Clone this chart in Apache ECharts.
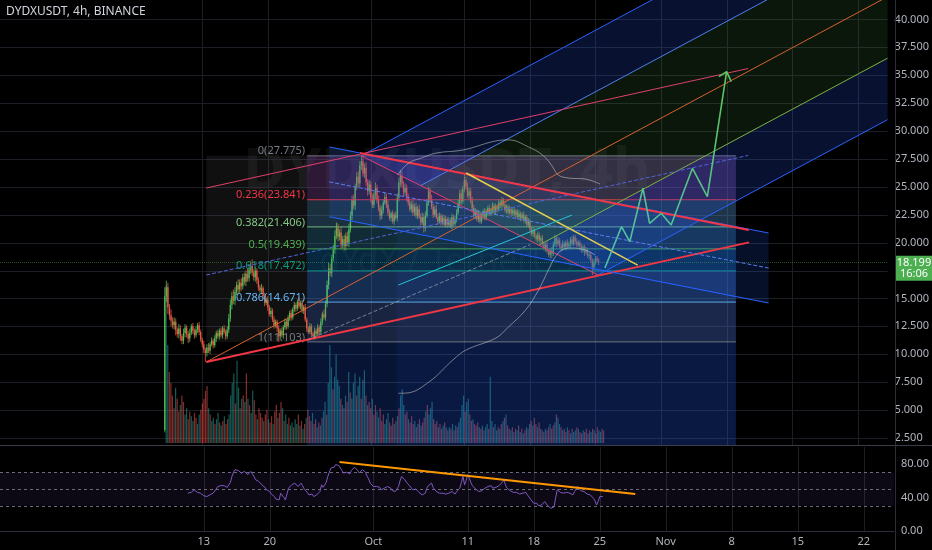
<!DOCTYPE html>
<html><head><meta charset="utf-8">
<script src="https://cdn.jsdelivr.net/npm/echarts@6/dist/echarts.min.js"></script>
<style>html,body{margin:0;padding:0;background:#000;}#c{width:932px;height:550px;}</style>
</head><body><div id="c"></div>
<script>
// ---------- DATA (day 0 = 2021-09-01 00:00, 4h candles) ----------
const startDay = 8;            // first candle: Sep 9
const firstOpen = 3.2;
const closes = [
15.2,16.0,14.2,13.5,13.0,12.6,12.9,12.2,11.8,12.3,
11.6,11.2,11.9,12.4,11.8,11.4,11.9,12.5,12.1,11.7,
12.2,12.6,12.0,11.3,10.9,10.4,10.1,10.6,10.3,10.9,
11.2,10.8,11.4,11.9,11.6,12.1,11.7,12.3,12.0,11.6,
12.2,13.2,14.4,15.2,14.8,15.6,16.2,15.8,16.4,16.1,
16.9,16.5,17.2,16.8,17.6,17.9,17.3,16.9,17.5,16.6,
16.0,15.7,15.9,15.2,14.6,14.9,14.2,13.6,13.9,13.1,
12.6,12.9,12.3,11.6,12.1,11.7,12.4,12.9,12.5,13.2,
13.7,13.3,14.0,14.4,14.1,14.7,14.3,14.6,13.9,14.2,
13.1,12.3,12.0,12.5,11.8,11.6,12.1,11.8,12.4,12.0,
12.9,13.6,13.3,14.5,16.2,17.7,17.3,18.6,19.4,20.6,
21.3,20.5,20.9,19.8,20.3,19.7,20.6,20.0,21.2,22.4,
23.8,23.3,25.0,25.9,25.3,26.9,27.3,26.2,26.7,25.4,
24.6,25.2,24.0,23.4,24.3,24.9,23.8,23.1,22.4,22.9,
23.6,24.1,23.4,22.7,22.2,22.6,21.9,22.5,22.2,24.0,
25.4,26.0,25.2,24.5,24.9,24.0,23.6,23.0,23.4,22.7,
23.2,22.4,23.0,22.3,21.8,22.3,21.3,22.4,23.6,24.6,
23.9,23.2,22.5,23.0,22.3,21.9,22.4,21.8,22.2,21.6,
22.1,21.6,22.0,21.5,22.3,21.7,22.1,22.7,23.5,24.4,
23.7,24.8,25.6,25.0,24.2,24.6,23.7,23.1,22.4,22.8,
22.1,22.6,21.9,22.4,22.8,22.2,22.7,23.1,22.6,22.9,
23.3,22.7,23.2,23.0,23.6,23.3,23.8,23.4,22.9,23.2,
22.7,23.0,22.6,22.9,22.5,22.8,22.3,22.6,22.2,22.5,
22.0,22.3,21.6,21.9,21.2,20.8,21.1,20.6,20.3,20.7,
20.2,20.4,19.9,19.5,19.8,19.2,18.9,19.3,19.0,19.8,
20.4,19.9,20.2,19.7,19.5,19.9,19.6,20.0,19.7,19.9,
20.3,19.9,20.5,20.1,19.8,20.0,19.6,19.3,19.6,19.1,
19.3,18.8,18.9,18.4,17.8,18.2,18.6,18.4,18.199];
const upWick = [
0.8,0.6,0.4,0.3,0.5,0.3,0.4,0.3,0.2,0.4,
0.3,0.2,0.4,0.3,0.2,0.3,0.4,0.2,0.3,0.2,
0.3,0.2,0.3,0.2,0.2,0.3,0.2,0.3,0.4,0.2,
0.3,0.2,0.3,0.2,0.3,0.2,0.3,0.2,0.3,0.2,
0.3,0.4,0.5,0.4,0.6,0.4,0.3,0.5,0.3,0.4,
0.3,0.4,0.3,0.5,0.4,0.4,0.6,0.3,0.3,0.2,
0.3,0.2,0.4,0.2,0.3,0.2,0.3,0.2,0.3,0.2,
0.3,0.2,0.2,0.3,0.2,0.3,0.2,0.3,0.2,0.3,
0.2,0.3,0.2,0.3,0.2,0.2,0.4,0.2,0.3,0.2,
0.3,0.2,0.2,0.3,0.2,0.2,0.3,0.2,0.3,0.2,
0.3,0.2,0.4,0.3,0.4,0.5,0.4,0.3,0.4,0.5,
0.5,0.4,0.3,0.5,0.3,0.4,0.3,0.4,0.5,0.4,
0.4,0.5,0.3,0.4,0.5,0.4,0.5,0.6,0.4,0.5,
0.3,0.4,0.3,0.4,0.3,0.5,0.3,0.4,0.3,0.4,
0.3,0.4,0.3,0.4,0.3,0.2,0.3,0.2,0.3,0.4,
0.4,0.5,0.4,0.3,0.4,0.3,0.4,0.3,0.3,0.4,
0.3,0.4,0.3,0.4,0.3,0.4,0.3,0.4,0.3,0.4,
0.3,0.4,0.3,0.3,0.4,0.3,0.3,0.2,0.3,0.3,
0.3,0.2,0.3,0.2,0.3,0.2,0.3,0.3,0.4,0.3,
0.4,0.3,0.5,0.3,0.4,0.3,0.3,0.4,0.3,0.3,
0.2,0.3,0.2,0.3,0.2,0.3,0.3,0.2,0.3,0.2,
0.3,0.2,0.3,0.2,0.3,0.2,0.3,0.2,0.3,0.2,
0.2,0.3,0.2,0.2,0.3,0.2,0.2,0.3,0.2,0.2,
0.3,0.2,0.2,0.3,0.2,0.2,0.3,0.2,0.2,0.3,
0.2,0.2,0.3,0.2,0.2,0.3,0.2,0.2,0.3,0.3,
0.3,0.2,0.3,0.2,0.2,0.3,0.2,0.2,0.3,0.2,
0.2,0.3,0.2,0.2,0.3,0.2,0.2,0.3,0.2,0.2,
0.3,0.2,0.2,0.3,0.2,0.3,0.2,0.2,0.2];
const dnWick = [
0.2,0.5,0.6,0.4,0.5,0.3,0.4,0.5,0.3,0.4,
0.4,0.3,0.3,0.4,0.3,0.4,0.3,0.2,0.3,0.3,
0.2,0.3,0.3,0.2,0.3,0.3,0.8,0.3,0.2,0.3,
0.2,0.3,0.2,0.3,0.2,0.3,0.2,0.3,0.2,0.3,
0.2,0.3,0.3,0.4,0.3,0.4,0.3,0.4,0.3,0.4,
0.3,0.3,0.4,0.3,0.3,0.4,0.3,0.3,0.4,0.3,
0.3,0.2,0.3,0.2,0.3,0.2,0.3,0.2,0.3,0.2,
0.3,0.2,0.3,0.5,0.3,0.2,0.3,0.2,0.3,0.2,
0.2,0.3,0.2,0.2,0.3,0.2,0.2,0.3,0.2,0.3,
0.2,0.3,0.2,0.2,0.3,0.2,0.3,0.2,0.2,0.3,
0.2,0.3,0.2,0.3,0.3,0.4,0.3,0.4,0.3,0.4,
0.3,0.4,0.3,0.4,0.3,0.4,0.4,0.3,0.4,0.3,
0.4,0.3,0.4,0.3,0.4,0.3,0.4,0.3,0.4,0.3,
0.4,0.3,0.4,0.3,0.3,0.4,0.3,0.3,0.4,0.3,
0.3,0.2,0.3,0.3,0.2,0.3,0.2,0.3,0.2,0.3,
0.3,0.4,0.3,0.4,0.3,0.3,0.3,0.2,0.3,0.3,
0.3,0.2,0.3,0.2,0.3,0.2,0.4,0.3,0.2,0.3,
0.3,0.2,0.3,0.2,0.2,0.3,0.2,0.3,0.2,0.2,
0.2,0.3,0.2,0.2,0.3,0.2,0.2,0.3,0.2,0.3,
0.3,0.2,0.3,0.3,0.2,0.3,0.2,0.3,0.2,0.3,
0.2,0.3,0.2,0.2,0.3,0.2,0.2,0.3,0.2,0.2,
0.3,0.2,0.2,0.3,0.2,0.2,0.3,0.2,0.2,0.3,
0.2,0.2,0.3,0.2,0.2,0.3,0.2,0.2,0.3,0.2,
0.2,0.3,0.2,0.2,0.3,0.2,0.3,0.2,0.2,0.3,
0.2,0.3,0.2,0.2,0.3,0.2,0.2,0.3,0.4,0.2,
0.2,0.3,0.2,0.2,0.3,0.2,0.2,0.3,0.2,0.2,
0.3,0.2,0.2,0.3,0.2,0.2,0.3,0.2,0.2,0.3,
0.2,0.2,0.3,0.2,0.7,0.3,0.2,0.2,0.2];
const volumes = [
100,62,45,38,30,22,35,28,20,24,
30,26,18,22,15,20,17,14,19,16,
12,18,21,25,28,33,36,22,18,14,
16,12,15,19,13,11,14,17,12,15,
18,30,38,44,25,52,35,22,28,30,
26,44,28,24,19,33,27,18,15,22,
19,16,14,18,21,15,13,17,12,20,
24,16,19,26,22,14,18,12,16,11,
13,10,15,12,18,11,14,9,12,16,
21,17,14,19,12,15,10,13,11,16,
20,26,18,38,62,48,34,42,56,40,
36,28,24,22,30,26,45,32,28,38,
44,30,36,42,28,40,46,30,24,26,
22,28,18,24,20,16,22,14,18,12,
15,19,13,11,16,12,14,17,22,30,
34,24,18,20,15,13,17,12,14,10,
12,15,11,13,16,20,24,18,22,26,
15,12,14,10,12,9,11,13,10,8,
10,9,12,8,11,10,13,16,24,30,
20,26,28,18,14,15,12,11,13,10,
9,11,8,10,12,9,42,14,10,12,
8,10,9,12,14,16,18,11,9,8,
10,7,9,8,11,7,9,6,8,10,
9,12,14,11,16,12,10,13,9,8,
7,9,8,10,12,9,11,13,18,16,
12,10,8,9,7,10,8,6,9,7,
8,10,9,7,6,8,7,9,6,8,
7,9,8,6,10,8,7,9,8];
const rsiStart = 14;
const rsi = [
45,47,46,48,49,48, 46,44,45,43,42,41, 41,42,43,44,45,44, 50,53,52,54,55,54,
55,52,51,58,65,70, 73,75,72,71,69,70, 71,70,67,69,71,68, 65,61,62,59,57,55,
56,52,49,50,47,44, 45,41,38,40,37,45, 43,40,37,44,51,53, 55,54,57,55,53,55,
57,55,50,52,46,43, 42,44,41,40,43,41, 47,55,52,51,58,65, 70,75,73,76,79,81,
78,75,72,69,67,70, 71,68,72,74,76,77, 72,69,71,73,74,70, 65,62,57,55,53,51,
53,55,52,49,48,51, 51,53,55,51,48,49, 47,50,53,60,65,63, 61,58,57,54,52,49,
47,50,48,46,45,43, 41,45,51,54,55,57, 52,50,47,48,45,43, 45,46,44,46,45,45,
47,46,44,47,48,51, 58,65,55,60,67,63, 58,54,52,50,48,47, 49,48,50,51,49,53,
52,54,51,50,52,53, 54,56,58,61,55,51, 50,48,47,46,45,46, 45,44,46,45,44,46,
43,41,38,36,33,31, 33,30,29,31,33,35, 33,30,28,27,25,29, 40,49,48,46,47,45,
44,46,47,45,44,43, 47,50,53,51,48,49, 47,45,44,45,43,43,
39,36,31,35,41,43,41];
const lastTimer = '16:06';

// axes / ticks
const xTickDays = [12,19,30,40,47,54,61,68,75,82];
const xTickLabels = ['13','20','Oct','11','18','25','Nov','8','15','22'];
const priceTicks = [2.5,5,7.5,10,12.5,15,17.5,20,22.5,25,27.5,30,32.5,35,37.5,40];
const rsiTicks = [0,40,80];
const rsiLevels = [70,50,30];

// fibonacci retracement
const fibLevelNames = ['0','0.236','0.382','0.5','0.618','0.786','1'];
const fibPrices = [27.775,23.841,21.406,19.439,17.472,14.671,11.103];
const fibColors = ['#787b86','#f23645','#81c784','#4caf50','#089981','#64b5f6','#787b86'];
const fibStart = 23.2, fibEnd = 69.0;
const grayBoxStart = 12.43;
const blueBox1Start = 23.2, blueBox2Start = 32.77;

// pitchfork anchors [day, price]
const pfPivot = [12.43, 9.30];
const pfA = [29.0, 27.78];
const pfB = [54.27, 17.10];
const pfLevels = [0, 0.25, 0.5, 0.75, 1];

// trend lines [day, price]
const redChanLower = [[12.43, 9.30], [70.4, 20.02]];
const redChanUpper = [[12.43, 24.89], [70.3, 35.60]];
const redChanMid   = [[12.43, 17.10], [70.3, 27.81]];
const descUpper = [[25.57, 28.57], [72.49, 20.86]];
const descLower = [[25.57, 22.32], [72.49, 14.59]];
const descMid   = [[25.57, 25.44], [72.49, 17.72]];
const downTrend = [[28.85, 28.03], [70.37, 21.13]];
const yellowLine = [[40.18, 26.24], [58.51, 17.99]];
const tealLine = [[32.95, 16.20], [51.48, 22.47]];
const whiteDashed = [[23.24, 11.27], [47.0, 19.82]];
const upperCurve = [[32.87,26.06],[34.04,27.13],[35.42,27.58],[37.01,28.03],[39.87,28.30],[43.36,29.11],[44.74,29.20],[46.86,28.57],[48.34,27.85],[49.29,26.96],[50.03,26.06],[51.09,25.79],[52.89,25.70],[54.48,25.25]];
const lowerCurve = [[32.95,6.50],[33.83,6.52],[36.26,7.54],[38.77,9.48],[40.18,10.38],[43.36,11.45],[44.74,12.47],[46.54,13.96],[47.92,15.75],[48.97,17.55],[49.72,18.74],[50.43,19.34],[51.48,19.52],[52.89,19.34],[53.95,18.89]];
const projection = [[55.01,17.73],[56.78,21.43],[57.66,20.08],[59.07,24.87],[59.78,21.73],[61.02,22.63],[62.08,21.58],[64.36,26.66],[65.95,24.11],[68.01,35.32]];
const arrowHead = [[67.19,34.87],[68.01,35.32],[68.5,34.42]];
const rsiTrend = [[26.41, 82.1], [57.77, 44.0]];

// ---------- CHART ----------
const X_MIN = -9.6, X_MAX = 85.2;
const P_MIN = 1.864, P_MAX = 41.74;
const UP = '#4fbf55', DN = '#ec5a44';
const GRIDC = '#1b1e25';
const FONT = 'Noto Sans';

const opens = closes.map((c, i) => i === 0 ? firstOpen : closes[i - 1]);
const candleData = closes.map((c, i) => {
  const o = opens[i];
  return [startDay + i / 6, o, c, Math.min(o, c) - dnWick[i], Math.max(o, c) + upWick[i]];
});
const volData = volumes.map((v, i) => [startDay + i / 6, v, closes[i] >= opens[i] ? 1 : 0]);
const rsiData = rsi.map((v, k) => [startDay + (rsiStart + k) / 6, v]);

function hexA(hex, a) {
  const n = parseInt(hex.slice(1), 16);
  return 'rgba(' + (n >> 16 & 255) + ',' + (n >> 8 & 255) + ',' + (n & 255) + ',' + a + ')';
}
function lineS(pts, color, width, type, z, axis) {
  const ax = axis || 0;
  return { type: 'line', xAxisIndex: ax, yAxisIndex: ax, data: pts, symbol: 'none', silent: true,
    animation: false, lineStyle: { color: color, width: width, type: type || 'solid' }, z: z || 6 };
}
function vGrid(ax) {
  return { type: 'custom', xAxisIndex: ax, yAxisIndex: ax, silent: true, z: 0, animation: false,
    data: xTickDays.map(d => [d, 0]),
    renderItem: (params, api) => {
      const cs = params.coordSys; const x = Math.round(api.coord([api.value(0), 0])[0]) + 0.5;
      return { type: 'line', shape: { x1: x, y1: cs.y, x2: x, y2: cs.y + cs.height }, style: { stroke: GRIDC, lineWidth: 1 } };
    } };
}
function pfStart(t) { return [pfA[0] + t * (pfB[0] - pfA[0]), pfA[1] + t * (pfB[1] - pfA[1])]; }
const pfMid = pfStart(0.5);
const pfSlope = (pfMid[1] - pfPivot[1]) / (pfMid[0] - pfPivot[0]);
function pfEnd(t) { const s = pfStart(t); return [X_MAX, s[1] + pfSlope * (X_MAX - s[0])]; }

const series = [];
// horizontal price grid
series.push({ type: 'custom', xAxisIndex: 0, yAxisIndex: 0, silent: true, z: 0, animation: false,
  data: priceTicks.map(v => [0, v]),
  renderItem: (params, api) => {
    const cs = params.coordSys; const y = Math.round(api.coord([0, api.value(1)])[1]) + 0.5;
    return { type: 'line', shape: { x1: cs.x, y1: y, x2: cs.x + cs.width, y2: y }, style: { stroke: GRIDC, lineWidth: 1 } };
  } });
series.push(vGrid(0));
series.push(vGrid(2));
// volume
series.push({ type: 'custom', xAxisIndex: 1, yAxisIndex: 1, silent: true, z: 1, animation: false,
  data: volData,
  renderItem: (params, api) => {
    const p0 = api.coord([api.value(0), 0]), p1 = api.coord([api.value(0), api.value(1)]);
    return { type: 'rect', shape: { x: p0[0] - 0.6, y: p1[1], width: 1.2, height: p0[1] - p1[1] },
      style: { fill: api.value(2) ? 'rgba(38,166,154,0.55)' : 'rgba(239,83,80,0.55)' } };
  } });
// background boxes
series.push({ type: 'custom', xAxisIndex: 0, yAxisIndex: 0, silent: true, z: 2, animation: false, clip: true,
  data: [[grayBoxStart, fibPrices[6], fibStart, fibPrices[0], 0], [blueBox1Start, P_MIN, fibEnd, fibPrices[0], 1], [blueBox2Start, P_MIN, fibEnd, fibPrices[0], 2]],
  renderItem: (params, api) => {
    const a = api.coord([api.value(0), api.value(1)]), b = api.coord([api.value(2), api.value(3)]);
    const fills = ['rgba(120,123,134,0.13)', 'rgba(41,98,255,0.20)', 'rgba(41,98,255,0.07)'];
    return { type: 'rect', shape: { x: a[0], y: b[1], width: b[0] - a[0], height: a[1] - b[1] }, style: { fill: fills[api.value(4)] } };
  } });
// candles
series.push({ type: 'custom', xAxisIndex: 0, yAxisIndex: 0, silent: true, z: 3, animation: false,
  data: candleData,
  renderItem: (params, api) => {
    const x = api.value(0), o = api.value(1), c = api.value(2), l = api.value(3), h = api.value(4);
    const pO = api.coord([x, o]), pC = api.coord([x, c]), pL = api.coord([x, l]), pH = api.coord([x, h]);
    const col = c >= o ? UP : DN; const w = 1.3;
    return { type: 'group', children: [
      { type: 'line', shape: { x1: pH[0], y1: pH[1], x2: pL[0], y2: pL[1] }, style: { stroke: col, lineWidth: 0.8 } },
      { type: 'rect', shape: { x: pO[0] - w / 2, y: Math.min(pO[1], pC[1]), width: w, height: Math.max(1, Math.abs(pO[1] - pC[1])) }, style: { fill: col } }
    ] };
  } });
// fib retracement
series.push({ type: 'custom', xAxisIndex: 0, yAxisIndex: 0, silent: true, z: 4, animation: false,
  data: fibPrices.map((p, k) => [fibStart, p, k]),
  renderItem: (params, api) => {
    const k = api.value(2), p = fibPrices[k];
    const a = api.coord([fibStart, p]), b = api.coord([fibEnd, p]);
    const ch = [];
    if (k < fibPrices.length - 1) {
      const c2 = api.coord([fibEnd, fibPrices[k + 1]]);
      ch.push({ type: 'rect', shape: { x: a[0], y: a[1], width: b[0] - a[0], height: c2[1] - a[1] }, style: { fill: hexA(fibColors[k + 1], 0.16) } });
    }
    ch.push({ type: 'line', shape: { x1: a[0], y1: a[1], x2: b[0], y2: b[1] }, style: { stroke: fibColors[k], lineWidth: 1, opacity: 0.9 } });
    ch.push({ type: 'text', x: a[0] - 2, y: a[1] + 1, style: { text: fibLevelNames[k] + '(' + p.toFixed(3) + ')', fill: fibColors[k], font: '11px ' + FONT, align: 'right', verticalAlign: 'bottom' } });
    return { type: 'group', children: ch };
  } });
// descending channel fill
series.push({ type: 'custom', xAxisIndex: 0, yAxisIndex: 0, silent: true, z: 4, animation: false, clip: true,
  data: [[0, 0]],
  renderItem: (params, api) => ({ type: 'polygon',
    shape: { points: [descUpper[0], descUpper[1], descLower[1], descLower[0]].map(p => api.coord(p)) },
    style: { fill: 'rgba(41,98,255,0.16)' } }) });
// pitchfork fills
series.push({ type: 'custom', xAxisIndex: 0, yAxisIndex: 0, silent: true, z: 4, animation: false, clip: true,
  data: [[0, 0, 0], [0, 0, 1], [0, 0, 2], [0, 0, 3]],
  renderItem: (params, api) => {
    const k = api.value(2), t1 = pfLevels[k], t2 = pfLevels[k + 1];
    const pts = [pfStart(t1), pfEnd(t1), pfEnd(t2), pfStart(t2)].map(p => api.coord(p));
    const fill = (k === 0 || k === 3) ? 'rgba(41,98,255,0.19)' : 'rgba(76,175,80,0.13)';
    return { type: 'polygon', shape: { points: pts }, style: { fill: fill } };
  } });
// pitchfork lines
series.push(lineS([pfStart(0), pfEnd(0)], '#2962ff', 1));
series.push(lineS([pfStart(0.25), pfEnd(0.25)], '#4f7ff0', 1));
series.push(lineS([pfPivot, pfEnd(0.5)], '#d9622f', 1));
series.push(lineS([pfStart(0.75), pfEnd(0.75)], '#7cb342', 1));
series.push(lineS([pfStart(1), pfEnd(1)], '#2962ff', 1));
series.push(lineS([pfA, pfB], '#e0406a', 1));
// trend lines
series.push(lineS(redChanUpper, '#e0406a', 1));
series.push(lineS(redChanMid, '#5363d8', 1, 'dashed'));
series.push(lineS(redChanLower, '#f23645', 2));
series.push(lineS(descUpper, '#2962ff', 1));
series.push(lineS(descLower, '#2962ff', 1.2));
series.push(lineS(descMid, '#5b7cf0', 1, 'dashed'));
series.push(lineS(downTrend, '#f23645', 2));
series.push(lineS(yellowLine, '#e3cf4d', 1.5));
series.push(lineS(tealLine, '#26c6da', 1));
series.push(lineS(whiteDashed, 'rgba(200,200,210,0.55)', 1, 'dashed'));
series.push(Object.assign(lineS(upperCurve, 'rgba(205,205,205,0.55)', 1), { smooth: 0.4 }));
series.push(Object.assign(lineS(lowerCurve, 'rgba(205,205,205,0.55)', 1), { smooth: 0.4 }));
// projection path
const projGrad = new echarts.graphic.LinearGradient(0, 1, 1, 0, [{ offset: 0, color: '#4dc0b0' }, { offset: 1, color: '#5cc45c' }]);
series.push(lineS(projection, projGrad, 1.6, 'solid', 7));
series.push(lineS(arrowHead, '#5cc45c', 1.6, 'solid', 7));
// last price line
series.push({ type: 'line', xAxisIndex: 0, yAxisIndex: 0, data: [], silent: true, animation: false,
  markLine: { silent: true, symbol: 'none', label: { show: false }, lineStyle: { color: 'rgba(76,175,80,0.45)', type: 'dotted', width: 1 },
    data: [{ yAxis: closes[closes.length - 1] }] } });
// RSI pane
series.push({ type: 'custom', xAxisIndex: 2, yAxisIndex: 2, silent: true, z: 1, animation: false,
  data: [[0, 0]],
  renderItem: (params, api) => {
    const cs = params.coordSys; const y1 = api.coord([0, rsiLevels[0]])[1], y2 = api.coord([0, rsiLevels[2]])[1];
    const ch = [{ type: 'rect', shape: { x: cs.x, y: y1, width: cs.width, height: y2 - y1 }, style: { fill: 'rgba(126,87,194,0.10)' } }];
    rsiLevels.forEach(v => { const y = Math.round(api.coord([0, v])[1]) + 0.5;
      ch.push({ type: 'line', shape: { x1: cs.x, y1: y, x2: cs.x + cs.width, y2: y }, style: { stroke: '#6a6d78', lineWidth: 1, lineDash: [3, 3] } }); });
    return { type: 'group', children: ch };
  } });
series.push(lineS(rsiData, '#7e57c2', 1, 'solid', 5, 2));
series.push(lineS(rsiTrend, '#ff9800', 2, 'solid', 6, 2));

const axisLab = { color: '#b2b5be', fontSize: 11, fontFamily: FONT };
const option = {
  backgroundColor: '#000',
  animation: false,
  grid: [
    { left: 0, right: 37, top: 0, height: 445 },
    { left: 0, right: 37, top: 285, height: 158 },
    { left: 0, right: 37, top: 447, height: 84 }
  ],
  xAxis: [0, 1, 2].map(i => ({
    type: 'value', gridIndex: i, min: X_MIN, max: X_MAX, splitLine: { show: false },
    axisTick: { show: false },
    axisLine: { show: i === 2, lineStyle: { color: '#2a2e39' } },
    axisLabel: i === 2 ? Object.assign({ customValues: xTickDays, margin: 5,
      formatter: v => xTickLabels[xTickDays.indexOf(v)] || '' }, axisLab) : { show: false }
  })),
  yAxis: [
    { type: 'value', gridIndex: 0, position: 'right', min: P_MIN, max: P_MAX, splitLine: { show: false },
      axisLine: { show: false }, axisTick: { show: false },
      axisLabel: Object.assign({ customValues: priceTicks, margin: 7, formatter: v => v.toFixed(3) }, axisLab) },
    { type: 'value', gridIndex: 1, min: 0, max: 100, show: false },
    { type: 'value', gridIndex: 2, position: 'right', min: 0, max: 100, splitLine: { show: false },
      axisLine: { show: false }, axisTick: { show: false },
      axisLabel: Object.assign({ customValues: rsiTicks, margin: 7, formatter: v => v.toFixed(2) }, axisLab) }
  ],
  series: series,
  graphic: [
    { type: 'text', left: 6, top: 6, z: 20, style: { text: 'DYDXUSDT, 4h, BINANCE', fill: '#d1d4dc', font: '12px ' + FONT } },
    { type: 'text', x: 447, y: 172, z: 0, style: { text: 'DYDXUSDT, 4h', fill: 'rgba(255,255,255,0.05)', font: 'bold 58px ' + FONT, align: 'center', verticalAlign: 'middle' } },
    { type: 'text', x: 447, y: 262, z: 0, style: { text: 'dYdX / TetherUS', fill: 'rgba(255,255,255,0.04)', font: '34px ' + FONT, align: 'center', verticalAlign: 'middle' } },
    { type: 'line', z: 20, shape: { x1: 0, y1: 445.5, x2: 932, y2: 445.5 }, style: { stroke: '#3a3e48', lineWidth: 1 } },
    { type: 'line', z: 20, shape: { x1: 895.5, y1: 0, x2: 895.5, y2: 550 }, style: { stroke: '#2a2e39', lineWidth: 1 } }
  ]
};
const chart = echarts.init(document.getElementById('c'), null, { renderer: 'canvas', width: 932, height: 550 });
chart.setOption(option);
const lastClose = closes[closes.length - 1];
const yPix = chart.convertToPixel({ yAxisIndex: 0 }, lastClose);
chart.setOption({ graphic: option.graphic.concat([
  { type: 'rect', z: 30, shape: { x: 896, y: yPix - 7, width: 36, height: 25 }, style: { fill: '#4caf50' } },
  { type: 'text', z: 31, x: 914, y: yPix, style: { text: lastClose.toFixed(3), fill: '#ffffff', font: '11px ' + FONT, align: 'center', verticalAlign: 'middle' } },
  { type: 'text', z: 31, x: 914, y: yPix + 11, style: { text: lastTimer, fill: '#ffffff', font: '11px ' + FONT, align: 'center', verticalAlign: 'middle' } }
]) });
</script>
</body></html>
